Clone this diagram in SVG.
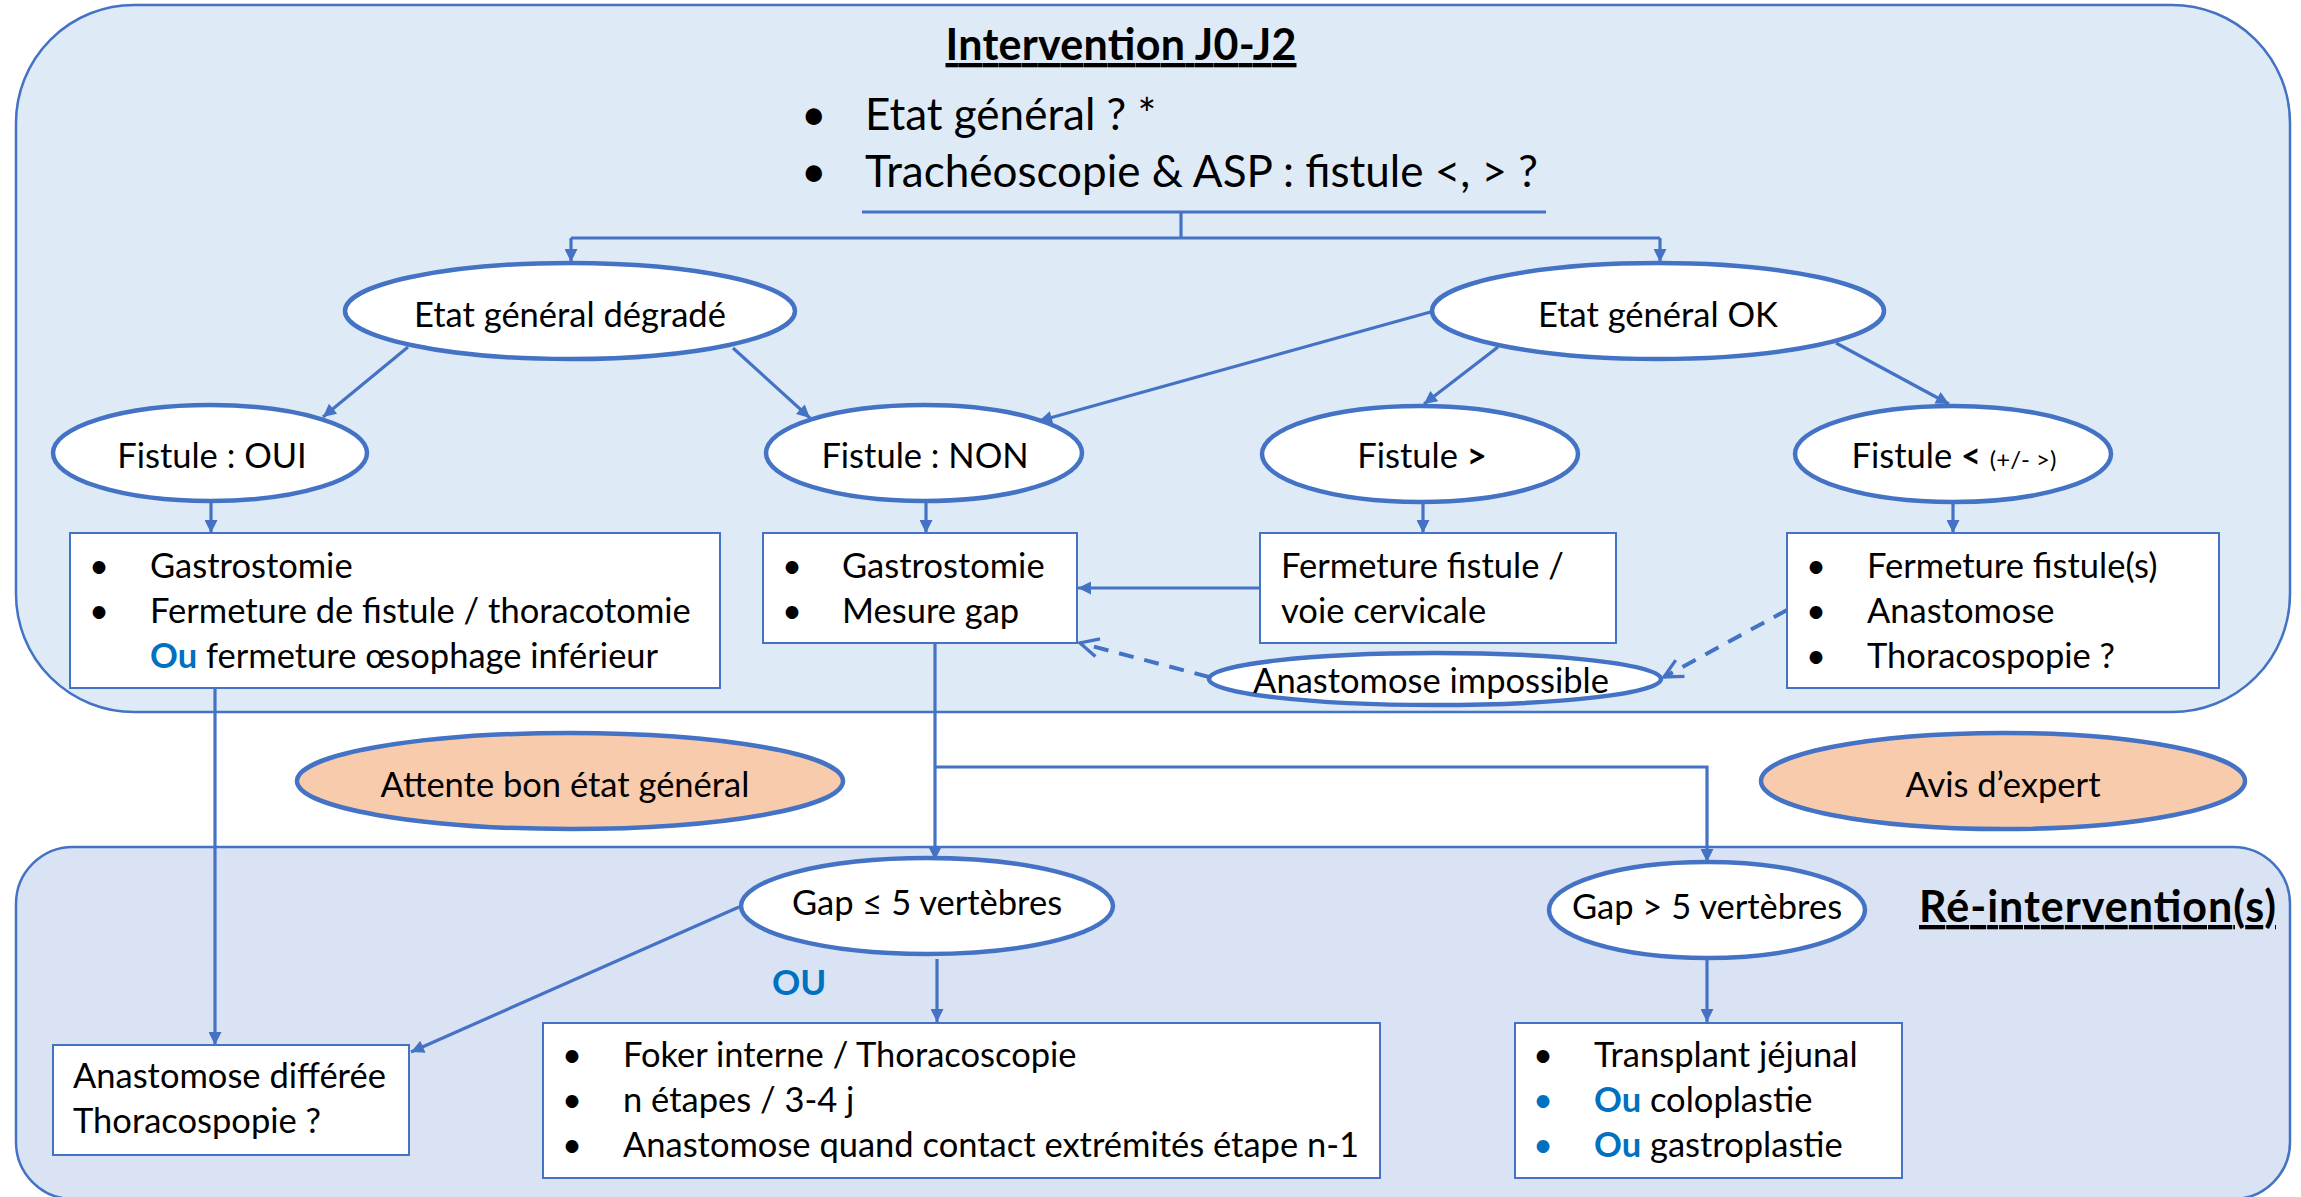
<svg xmlns="http://www.w3.org/2000/svg" width="2301" height="1197" viewBox="0 0 2301 1197">
<style>
text{font-family:Lato,"Liberation Sans",sans-serif;fill:#000}
.t{font-size:34.5px}
.big{font-size:44px}
.ttl{font-size:43px;font-weight:bold}
.b{font-weight:bold}
.blue{fill:#0070C0}
.c{text-anchor:middle}
.el{fill:#fff;stroke:#4472C4;stroke-width:4.5}
.or{fill:#F8CBAD;stroke:#4472C4;stroke-width:4.5}
.bx{fill:#fff;stroke:#4472C4;stroke-width:2}
.ln{fill:none;stroke:#4472C4;stroke-width:3.2}
.dash{stroke-width:4;stroke-dasharray:15 11}
</style>
<defs>
<marker id="a" viewBox="0 0 10 10" refX="10" refY="5" markerWidth="15" markerHeight="13" markerUnits="userSpaceOnUse" orient="auto"><path d="M0,0 L10,5 L0,10 z" fill="#4472C4"/></marker>
<marker id="o" viewBox="0 0 12 12" refX="11" refY="6" markerWidth="22" markerHeight="22" markerUnits="userSpaceOnUse" orient="auto"><path d="M1,1 L11,6 L1,11" fill="none" stroke="#4472C4" stroke-width="1.8"/></marker>
</defs>
<g id="containers">
<rect id="top-panel" x="16" y="5" width="2274" height="707" rx="118" ry="118" fill="#DEEBF7" stroke="#4472C4" stroke-width="2.5"/>
<rect id="bottom-panel" x="16" y="847" width="2274" height="352" rx="57" ry="57" fill="#DAE3F3" stroke="#4472C4" stroke-width="2.5"/>
</g>
<g id="header">
<text class="ttl c" x="1121" y="60" text-decoration="underline" textLength="351">Intervention J0-J2</text>
<text class="big" x="801" y="130">•</text>
<text class="big" x="865" y="130">Etat général ? *</text>
<text class="big" x="801" y="187">•</text>
<text class="big" x="865" y="187">Trachéoscopie &amp; ASP : fistule &lt;, &gt; ?</text>
</g>
<g id="connectors">
<path class="ln" d="M862,212 H1546"/>
<path class="ln" d="M1181,212 V238"/>
<path class="ln" d="M571,238 H1660"/>
<path class="ln" d="M571,238 V262" marker-end="url(#a)"/>
<path class="ln" d="M1660,238 V262" marker-end="url(#a)"/>
<path class="ln" d="M408,347 L323,417" marker-end="url(#a)"/>
<path class="ln" d="M733,348 L810,418" marker-end="url(#a)"/>
<path class="ln" d="M1434,311 L1039,421" marker-end="url(#a)"/>
<path class="ln" d="M1498,347 L1424,404" marker-end="url(#a)"/>
<path class="ln" d="M1836,343 L1949,404" marker-end="url(#a)"/>
<path class="ln" d="M211,502 V533" marker-end="url(#a)"/>
<path class="ln" d="M926,502 V533" marker-end="url(#a)"/>
<path class="ln" d="M1423,503 V533" marker-end="url(#a)"/>
<path class="ln" d="M1953,503 V533" marker-end="url(#a)"/>
<path class="ln" d="M1260,588 H1078" marker-end="url(#a)"/>
<path class="ln dash" d="M1209,677 L1080,643" marker-end="url(#o)"/>
<path class="ln dash" d="M1787,610 L1664,677" marker-end="url(#o)"/>
<path class="ln" d="M215,688 V1045" marker-end="url(#a)"/>
<path class="ln" d="M935,643 V860" marker-end="url(#a)"/>
<path class="ln" d="M935,767 H1707 V862" marker-end="url(#a)"/>
<path class="ln" d="M739,907 L411,1052" marker-end="url(#a)"/>
<path class="ln" d="M937,959 V1022" marker-end="url(#a)"/>
<path class="ln" d="M1707,960 V1022" marker-end="url(#a)"/>
</g>
<g id="n-degrade"><ellipse class="el" cx="570" cy="311" rx="225" ry="48"/><text class="t c" x="570" y="327">Etat général dégradé</text></g>
<g id="n-ok"><ellipse class="el" cx="1658" cy="311" rx="226" ry="48"/><text class="t c" x="1658" y="327">Etat général OK</text></g>
<g id="n-fist-oui"><ellipse class="el" cx="210" cy="453" rx="157" ry="48"/><text class="t c" x="212" y="468">Fistule : OUI</text></g>
<g id="n-fist-non"><ellipse class="el" cx="924" cy="453" rx="158" ry="48"/><text class="t c" x="925" y="468">Fistule : NON</text></g>
<g id="n-fist-sup"><ellipse class="el" cx="1420" cy="454" rx="158" ry="48"/><text class="t c" x="1422" y="468">Fistule <tspan class="b">&gt;</tspan></text></g>
<g id="n-fist-inf"><ellipse class="el" cx="1953" cy="454" rx="158" ry="48"/><text class="t c" x="1954" y="468">Fistule <tspan class="b">&lt;</tspan> <tspan font-size="24">(+/- &gt;)</tspan></text></g>
<g id="b-oui"><rect class="bx" x="70" y="533" width="650" height="155"/>
<text class="t" x="89" y="578">•</text><text class="t" x="150" y="578">Gastrostomie</text>
<text class="t" x="89" y="623">•</text><text class="t" x="150" y="623">Fermeture de fistule / thoracotomie</text>
<text class="t" x="150" y="668"><tspan class="b blue">Ou</tspan> fermeture œsophage inférieur</text></g>
<g id="b-non"><rect class="bx" x="763" y="533" width="314" height="110"/>
<text class="t" x="782" y="578">•</text><text class="t" x="842" y="578">Gastrostomie</text>
<text class="t" x="782" y="623">•</text><text class="t" x="842" y="623">Mesure gap</text></g>
<g id="b-sup"><rect class="bx" x="1260" y="533" width="356" height="110"/>
<text class="t" x="1281" y="578">Fermeture fistule /</text>
<text class="t" x="1281" y="623">voie cervicale</text></g>
<g id="b-inf"><rect class="bx" x="1787" y="533" width="432" height="155"/>
<text class="t" x="1806" y="578">•</text><text class="t" x="1867" y="578">Fermeture fistule(s)</text>
<text class="t" x="1806" y="623">•</text><text class="t" x="1867" y="623">Anastomose</text>
<text class="t" x="1806" y="668">•</text><text class="t" x="1867" y="668">Thoracospopie ?</text></g>
<g id="n-anast-imp"><ellipse class="el" cx="1435" cy="679" rx="226" ry="26"/><text class="t c" x="1431" y="693">Anastomose impossible</text></g>
<g id="n-attente"><ellipse class="or" cx="570" cy="781" rx="273" ry="48"/><text class="t c" x="565" y="797">Attente bon état général</text></g>
<g id="n-avis"><ellipse class="or" cx="2003" cy="781" rx="242" ry="48"/><text class="t c" x="2003" y="797">Avis d’expert</text></g>
<g id="reint"><text class="ttl" x="1919" y="922" text-decoration="underline" textLength="357">Ré-intervention(s)</text></g>
<g id="n-gap-le"><ellipse class="el" cx="927" cy="906" rx="186" ry="48"/><text class="t c" x="927" y="915">Gap ≤ 5 vertèbres</text></g>
<g id="n-gap-gt"><ellipse class="el" cx="1707" cy="910" rx="158" ry="48"/><text class="t c" x="1707" y="919">Gap &gt; 5 vertèbres</text></g>
<g id="ou"><text class="b blue" font-size="35" x="772" y="995">OU</text></g>
<g id="b-differee"><rect class="bx" x="53" y="1045" width="356" height="110"/>
<text class="t" x="73" y="1088">Anastomose différée</text>
<text class="t" x="73" y="1133">Thoracospopie ?</text></g>
<g id="b-foker"><rect class="bx" x="543" y="1023" width="837" height="155"/>
<text class="t" x="562" y="1067">•</text><text class="t" x="623" y="1067">Foker interne / Thoracoscopie</text>
<text class="t" x="562" y="1112">•</text><text class="t" x="623" y="1112">n étapes / 3-4 j</text>
<text class="t" x="562" y="1157">•</text><text class="t" x="623" y="1157">Anastomose quand contact extrémités étape n-1</text></g>
<g id="b-transplant"><rect class="bx" x="1515" y="1023" width="387" height="155"/>
<text class="t" x="1533" y="1067">•</text><text class="t" x="1594" y="1067">Transplant jéjunal</text>
<text class="t blue" x="1533" y="1112">•</text><text class="t" x="1594" y="1112"><tspan class="b blue">Ou</tspan> coloplastie</text>
<text class="t blue" x="1533" y="1157">•</text><text class="t" x="1594" y="1157"><tspan class="b blue">Ou</tspan> gastroplastie</text></g>
</svg>
